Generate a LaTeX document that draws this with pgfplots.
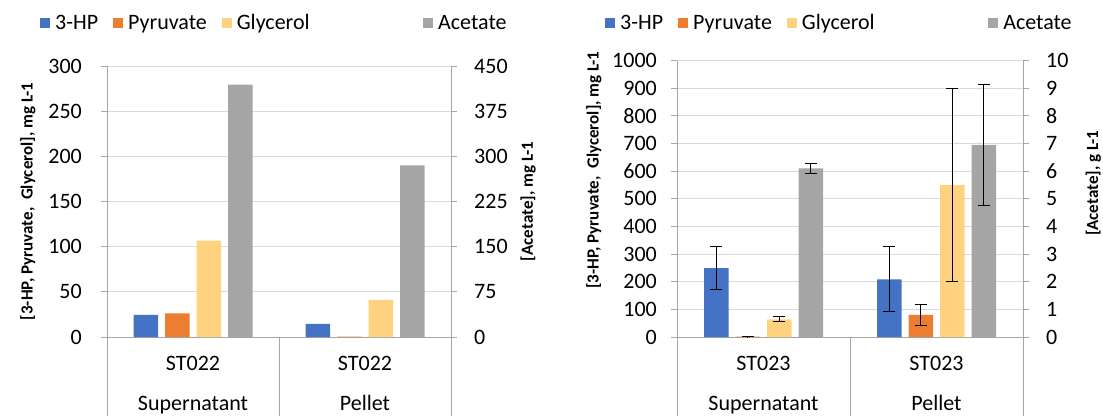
\documentclass[border=0pt]{standalone}
\usepackage{fontspec}
\setmainfont{Carlito}
\usepackage{pgfplots}
\pgfplotsset{compat=1.18}

\definecolor{cBlue}{HTML}{4472C4}
\definecolor{cOrange}{HTML}{ED7D31}
\definecolor{cYellow}{HTML}{FFD280}
\definecolor{cGray}{HTML}{A5A5A5}
\definecolor{cGrid}{HTML}{D9D9D9}
\definecolor{cAxis}{HTML}{A6A6A6}

\newcommand{\tickfont}{\fontsize{22}{26}\selectfont}
\newcommand{\labfont}{\fontsize{17}{20}\selectfont\bfseries}

\pgfplotsset{
  sqleg/.style={legend image code/.code={\fill[##1] (0pt,-5pt) rectangle (10pt,5pt);}},
  common/.style={
    scale only axis, anchor=south west,
    xmin=-0.5, xmax=1.5, ymin=0,
    axis line style={-, cAxis, line width=1pt},
    tick style={cAxis, line width=1pt},
    tick align=outside, major tick length=6pt,
    /pgf/number format/assume math mode=true,
    /pgf/number format/1000 sep={},
    every tick label/.append style={font=\tickfont, text=black},
    ybar, bar width=24.5pt,
    clip=false,
    legend style={draw=none, fill=none, legend columns=-1, font=\tickfont,
      inner sep=0pt, nodes={inner sep=0pt, text=black},
      /tikz/every odd column/.append style={column sep=5pt},
      /tikz/every even column/.append style={column sep=15pt}},
    error bars/error bar style={black, line width=1pt},
    error bars/error mark options={rotate=90, black, mark size=6pt, line width=1pt},
  },
  prim/.style={common,
    axis x line*=bottom, axis y line*=left,
    ymajorgrids, grid style={cGrid, line width=1pt},
    xtick=\empty, extra x ticks={0,1},
    extra x tick style={tick style={draw=none}},
    xticklabel style={align=center, anchor=north, inner sep=0pt, yshift=-13pt},
    yticklabel style={anchor=east, inner sep=0pt},
  },
  sec/.style={common,
    axis x line=none, axis y line*=right,
    xtick=\empty,
    yticklabel style={anchor=west, inner sep=0pt, xshift=17pt},
  },
}

\begin{document}
\begin{tikzpicture}
\useasboundingbox (0,0) rectangle (1103pt,416pt);

% ---------------- Left chart ----------------
\begin{axis}[prim, at={(107pt,79pt)}, width=344pt, height=271pt,
  ymax=300, ytick={0,50,...,300},
  yticklabel style={xshift=-19pt},
  extra x tick labels={{ST022\\[14pt]Supernatant},{ST022\\[14pt]Pellet}},
  ylabel={[3-HP, Pyruvate,\ \ Glycerol], mg L-1},
  ylabel style={font=\labfont, at={(axis description cs:-0.2297,0.5)}, anchor=center},
  legend style={at={(axis description cs:-0.1948,1.1587)}, anchor=west}]
\addlegendimage{sqleg, fill=cBlue, draw=none}\addlegendentry{3-HP}
\addlegendimage{sqleg, fill=cOrange, draw=none}\addlegendentry{Pyruvate}
\addlegendimage{sqleg, fill=cYellow, draw=none}\addlegendentry{Glycerol}
\addplot[fill=cBlue, draw=none, bar shift=-47.25pt, forget plot] coordinates {(0,24.4) (1,14.4)};
\addplot[fill=cOrange, draw=none, bar shift=-15.75pt, forget plot] coordinates {(0,26.2) (1,0.5)};
\addplot[fill=cYellow, draw=none, bar shift=15.75pt, forget plot] coordinates {(0,106.6) (1,41)};
\draw[cAxis, line width=1pt] (axis cs:-0.5,0) -- ([yshift=-79pt]axis cs:-0.5,0);
\draw[cAxis, line width=1pt] (axis cs:0.5,0) -- ([yshift=-79pt]axis cs:0.5,0);
\draw[cAxis, line width=1pt] (axis cs:1.5,0) -- ([yshift=-79pt]axis cs:1.5,0);
\end{axis}
\begin{axis}[sec, at={(107pt,79pt)}, width=344pt, height=271pt,
  ymax=450, ytick={0,75,...,450},
  ylabel={[Acetate], mg L-1},
  ylabel style={font=\labfont, at={(axis description cs:1.224,0.5)}, anchor=center},
  legend style={at={(axis description cs:0.9186,1.1587)}, anchor=west}]
\addlegendimage{sqleg, fill=cGray, draw=none}\addlegendentry{Acetate}
\addplot[fill=cGray, draw=none, bar shift=47.25pt, forget plot] coordinates {(0,419) (1,285)};
\end{axis}

% ---------------- Right chart ----------------
\begin{axis}[prim, at={(677pt,79pt)}, width=346pt, height=276.3pt,
  ymax=1000, ytick={0,100,...,1000},
  yticklabel style={xshift=-14pt},
  extra x tick labels={{ST023\\[14pt]Supernatant},{ST023\\[14pt]Pellet}},
  ylabel={[3-HP, Pyruvate,\ \ Glycerol], mg L-1},
  ylabel style={font=\labfont, at={(axis description cs:-0.24,0.604)}, anchor=center},
  legend style={at={(axis description cs:-0.208,1.1365)}, anchor=west}]
\addlegendimage{sqleg, fill=cBlue, draw=none}\addlegendentry{3-HP}
\addlegendimage{sqleg, fill=cOrange, draw=none}\addlegendentry{Pyruvate}
\addlegendimage{sqleg, fill=cYellow, draw=none}\addlegendentry{Glycerol}
\addplot[fill=cBlue, draw=none, bar shift=-47.25pt, forget plot,
  error bars/.cd, y dir=both, y explicit] coordinates {(0,249) +- (0,77) (1,209) +- (0,117)};
\addplot[fill=cOrange, draw=none, bar shift=-15.75pt, forget plot,
  error bars/.cd, y dir=both, y explicit] coordinates {(0,1.5) +- (0,1) (1,80) +- (0,38)};
\addplot[fill=cYellow, draw=none, bar shift=15.75pt, forget plot,
  error bars/.cd, y dir=both, y explicit] coordinates {(0,64) +- (0,9) (1,550) +- (0,350)};
\draw[cAxis, line width=1pt] (axis cs:-0.5,0) -- ([yshift=-79pt]axis cs:-0.5,0);
\draw[cAxis, line width=1pt] (axis cs:0.5,0) -- ([yshift=-79pt]axis cs:0.5,0);
\draw[cAxis, line width=1pt] (axis cs:1.5,0) -- ([yshift=-79pt]axis cs:1.5,0);
\end{axis}
\begin{axis}[sec, at={(677pt,79pt)}, width=346pt, height=276.3pt,
  ymax=10, ytick={0,1,...,10},
  ylabel={[Acetate], g L-1},
  ylabel style={font=\labfont, at={(axis description cs:1.203,0.556)}, anchor=center},
  legend style={at={(axis description cs:0.899,1.1365)}, anchor=west}]
\addlegendimage{sqleg, fill=cGray, draw=none}\addlegendentry{Acetate}
\addplot[fill=cGray, draw=none, bar shift=47.25pt, forget plot,
  error bars/.cd, y dir=both, y explicit] coordinates {(0,6.1) +- (0,0.18) (1,6.95) +- (0,2.19)};
\end{axis}
\end{tikzpicture}
\end{document}
